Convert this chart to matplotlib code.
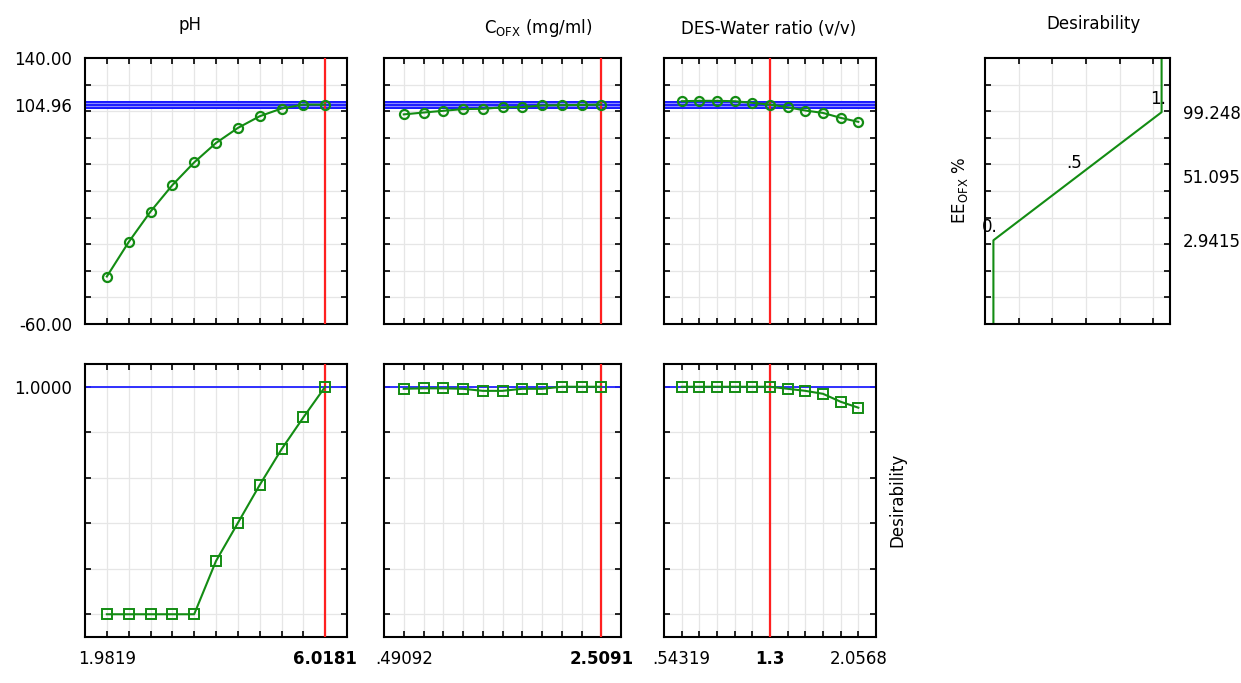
import numpy as np
import matplotlib.pyplot as plt

plt.rcParams['font.family'] = ['DejaVu Sans']
plt.rcParams['font.size'] = 12

# factor ranges (low, high) and current setting
ph_range = (1.9819, 6.0181)
c_range = (0.49092, 2.5091)
des_range = (0.54319, 2.0568)
ph_cur = 6.0181
c_cur = 2.5091
des_cur = 1.3

# predicted EE_OFX % along each factor (11 grid points)
ee_ph = [-24.3, 1.6, 24.5, 44.4, 61.5, 76.1, 87.4, 96.2, 102.0, 104.96, 104.96]
ee_c = [97.6, 99.0, 100.3, 101.6, 101.8, 102.9, 103.1, 104.3, 104.5, 104.7, 104.96]
ee_des = [107.5, 107.8, 107.8, 107.5, 106.3, 104.96, 103.0, 100.5, 98.7, 95.0, 92.0]

# desirability along each factor
d_ph = [0, 0, 0, 0, 0, 0.234, 0.401, 0.568, 0.725, 0.865, 1.0]
d_c = [0.991, 0.993, 0.993, 0.991, 0.982, 0.982, 0.991, 0.991, 1.0, 1.0, 1.0]
d_des = [1, 1, 1, 1, 1, 1, 0.991, 0.982, 0.969, 0.934, 0.908]

ee_pred = 104.96
ee_band = (102.0, 107.8)
# desirability function of the response
desir_levels = [0, 0.5, 1]
ee_levels = [2.9415, 51.095, 99.248]

green = '#138c13'
W, H = 1241, 683
fig = plt.figure(figsize=(W / 100, H / 100), dpi=100)


def rect(x0, x1, y0, y1):
    return [x0 / W, 1 - y1 / H, (x1 - x0) / W, (y1 - y0) / H]


def style(ax):
    for s in ax.spines.values():
        s.set_linewidth(1.5)
    ax.tick_params(which='both', direction='in', top=True, right=True)
    ax.tick_params(which='minor', length=4, width=1.2)
    ax.tick_params(which='major', length=0, pad=9)
    ax.xaxis.remove_overlapping_locs = False
    ax.yaxis.remove_overlapping_locs = False
    ax.grid(which='minor', color='#e6e6e6', lw=0.9)
    ax.set_axisbelow(True)


cols = [(85, 347, ph_range, ph_cur, ee_ph, d_ph),
        (384, 621, c_range, c_cur, ee_c, d_c),
        (664, 876, des_range, des_cur, ee_des, d_des)]

for i, (x0, x1, rng, cur, ee, dd) in enumerate(cols):
    xs = np.linspace(rng[0], rng[1], 11)
    step = xs[1] - xs[0]

    # response row
    ax = fig.add_axes(rect(x0, x1, 58, 324))
    style(ax)
    ax.axhspan(ee_band[0], ee_band[1], color='#1a1aff', lw=0, zorder=2)
    for yv in (103.9, 105.9):
        ax.axhline(yv, color='#8c8cff', lw=0.8, zorder=2)
    ax.axvline(cur, color='#ff2020', lw=1.6, zorder=3)
    ax.plot(xs, ee, color=green, lw=1.5, marker='o', ms=6.5, mfc='none',
            mew=1.6, zorder=4)
    ax.set_xlim(rng[0] - step, rng[1] + step)
    ax.set_ylim(-60, 140)
    ax.set_xticks(xs, minor=True)
    ax.set_yticks(np.arange(-40, 121, 20), minor=True)
    ax.set_xticks([])
    if i == 0:
        ax.set_yticks([-60, ee_pred, 140])
        ax.set_yticklabels(['-60.00', '%.2f' % ee_pred, '140.00'])
    else:
        ax.set_yticks([])

    # desirability row
    ax = fig.add_axes(rect(x0, x1, 364, 637))
    style(ax)
    ax.axhline(1.0, color='#2020ff', lw=1.3, zorder=2)
    ax.axvline(cur, color='#ff2020', lw=1.6, zorder=3)
    ax.plot(xs, dd, color=green, lw=1.5, marker='s', ms=6.5, mfc='none',
            mew=1.4, zorder=4)
    ax.set_xlim(rng[0] - step, rng[1] + step)
    ax.set_ylim(-0.1, 1.1)
    ax.set_xticks(xs, minor=True)
    ax.set_yticks(np.arange(0, 1.01, 0.2), minor=True)
    if i == 0:
        ax.set_yticks([1.0])
        ax.set_yticklabels(['1.0000'])
    else:
        ax.set_yticks([])
    if i == 0:
        ax.set_xticks([rng[0], cur], ['1.9819', '6.0181'])
    elif i == 1:
        ax.set_xticks([rng[0], cur], ['.49092', '2.5091'])
    else:
        ax.set_xticks([rng[0], cur, rng[1]], ['.54319', '1.3', '2.0568'])
    ax.get_xticklabels()[1].set_fontweight('bold')

# desirability function panel
ax = fig.add_axes(rect(985, 1170, 58, 324))
style(ax)
ax.plot([desir_levels[0]] + desir_levels + [desir_levels[-1]],
        [-60] + ee_levels + [140], color=green, lw=1.5)
for d, e, lab in zip(desir_levels, ee_levels, ['0.', '.5', '1.']):
    ax.text(d - 0.02, e + 10, lab, ha='center', va='center', fontsize=12)
ax.set_xlim(-0.05, 1.05)
ax.set_ylim(-60, 140)
ax.set_xticks([0.15, 0.35, 0.55, 0.75, 0.95], minor=True)
ax.set_yticks(np.arange(-40, 121, 20), minor=True)
ax.set_xticks([])
ax.yaxis.tick_right()
ax.tick_params(which='both', left=True, right=True)
ax.set_yticks(ee_levels, ['2.9415', '51.095', '99.248'])

# titles and axis labels
fig.text(190 / W, 1 - 25 / H, 'pH', ha='center', va='center')
fig.text(538 / W, 1 - 28 / H, r'C$_{\mathregular{OFX}}$ (mg/ml)', ha='center', va='center')
fig.text(769 / W, 1 - 29 / H, 'DES-Water ratio (v/v)', ha='center', va='center')
fig.text(1093 / W, 1 - 24 / H, 'Desirability', ha='center', va='center')
fig.text(960 / W, 1 - 190 / H, r'EE$_{\mathregular{OFX}}$ %', ha='center',
         va='center', rotation=90)
fig.text(897 / W, 1 - 500 / H, 'Desirability', ha='center', va='center',
         rotation=90)

fig.savefig('out.png', dpi=100)
